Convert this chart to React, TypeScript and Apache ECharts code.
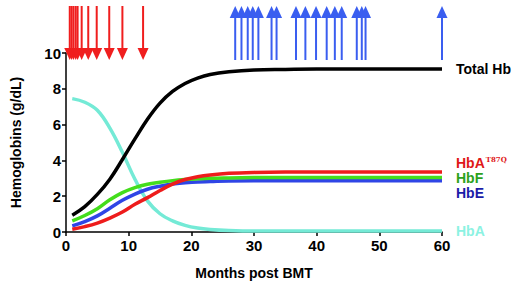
import React, { useEffect, useRef } from "react";
import * as echarts from "echarts";

const months = [1, 3, 5, 7, 9, 11, 13, 15, 17, 19, 21, 23, 26, 30, 35, 40, 50, 60];
const totalHb = [0.94, 1.42, 2.1, 2.95, 4.05, 5.2, 6.3, 7.2, 7.85, 8.3, 8.6, 8.8, 8.95, 9.05, 9.08, 9.1, 9.1, 9.1];
const hbA = [7.45, 7.25, 6.8, 5.8, 4.45, 2.95, 1.74, 1.02, 0.62, 0.37, 0.22, 0.14, 0.08, 0.05, 0.05, 0.05, 0.05, 0.05];
const hbF = [0.62, 0.92, 1.3, 1.8, 2.2, 2.48, 2.67, 2.78, 2.87, 2.93, 2.97, 3.0, 3.02, 3.04, 3.05, 3.05, 3.05, 3.05];
const hbE = [0.34, 0.58, 0.9, 1.33, 1.77, 2.12, 2.39, 2.56, 2.68, 2.75, 2.8, 2.82, 2.85, 2.86, 2.86, 2.86, 2.86, 2.86];
const hbAT87Q = [0.15, 0.3, 0.5, 0.78, 1.12, 1.55, 1.92, 2.32, 2.68, 2.93, 3.09, 3.19, 3.28, 3.33, 3.35, 3.35, 3.35, 3.35];

const redArrowMonths = [0.6, 0.9, 1.2, 1.55, 1.85, 2.5, 3.55, 4.9, 6.9, 9.0, 12.3];
const blueArrowMonths = [27.0, 28.0, 29.0, 29.8, 30.7, 32.8, 33.6, 36.7, 38.2, 39.9, 41.6, 42.9, 44.0, 46.4, 47.2, 47.8, 60.0];

const xTicks = { min: 0, max: 60, interval: 10 };
const yTicks = { min: 0, max: 10, interval: 2 };

const FONT = "'Liberation Sans', Arial, sans-serif";

function zip(xs: number[], ys: number[]) {
  return xs.map((x, i) => [x, ys[i]]);
}

export default function App() {
  const ref = useRef<HTMLDivElement>(null);
  useEffect(() => {
    if (!ref.current) return;
    const chart = echarts.init(ref.current, null, { renderer: "svg" });

    const lineSeries = (name: string, data: number[], color: string, label: any) => ({
      type: "line",
      name,
      data: zip(months, data),
      smooth: 0.4,
      symbol: "none",
      lineStyle: { color, width: 3.5 },
      endLabel: { show: true, distance: 14, fontFamily: FONT, fontWeight: "bold", fontSize: 14, ...label },
      z: 3,
    });

    const arrowSeries = (data: number[], color: string, down: boolean) => ({
      type: "custom",
      clip: false,
      data: data.map((m) => [m, yTicks.max]),
      renderItem: (_params: any, api: any) => {
        const p = api.coord([api.value(0), api.value(1)]);
        const x = p[0];
        const y = p[1];
        if (down) {
          return {
            type: "group",
            children: [
              { type: "line", shape: { x1: x, y1: y - 47, x2: x, y2: y - 2 }, style: { stroke: color, lineWidth: 2 } },
              { type: "polygon", shape: { points: [[x - 5.5, y - 5], [x + 5.5, y - 5], [x, y + 7]] }, style: { fill: color } },
            ],
          };
        }
        return {
          type: "group",
          children: [
            { type: "line", shape: { x1: x, y1: y + 7, x2: x, y2: y - 37 }, style: { stroke: color, lineWidth: 2 } },
            { type: "polygon", shape: { points: [[x - 5.5, y - 35], [x + 5.5, y - 35], [x, y - 47]] }, style: { fill: color } },
          ],
        };
      },
      z: 5,
    });

    chart.setOption({
      animation: false,
      grid: { left: 66, right: 78, top: 53, bottom: 62 },
      xAxis: {
        type: "value",
        ...xTicks,
        name: "Months post BMT",
        nameLocation: "middle",
        nameGap: 34,
        nameTextStyle: { fontFamily: FONT, fontWeight: "bold", fontSize: 14, color: "#000" },
        axisLine: { lineStyle: { color: "#000", width: 1.5 } },
        axisTick: { show: true, length: 4, lineStyle: { color: "#000", width: 1.5 } },
        axisLabel: { fontFamily: FONT, fontWeight: "bold", fontSize: 15, color: "#000", margin: 6 },
        splitLine: { show: false },
      },
      yAxis: {
        type: "value",
        ...yTicks,
        name: "Hemoglobins (g/dL)",
        nameLocation: "middle",
        nameGap: 43,
        nameTextStyle: { fontFamily: FONT, fontWeight: "bold", fontSize: 14, color: "#000" },
        axisLine: { show: true, lineStyle: { color: "#000", width: 1.5 } },
        axisTick: { show: true, length: 4, lineStyle: { color: "#000", width: 1.5 } },
        axisLabel: { fontFamily: FONT, fontWeight: "bold", fontSize: 15, color: "#000", margin: 5 },
        splitLine: { show: false },
      },
      series: [
        lineSeries("HbA", hbA, "#74ead6", { formatter: "HbA", color: "#8cf2e2" }),
        lineSeries("HbE", hbE, "#2f45e6", { formatter: "HbE", color: "#1c1ca8", offset: [0, 12] }),
        lineSeries("HbF", hbF, "#44dd1c", { formatter: "HbF", color: "#2ca21c", offset: [0, 1] }),
        lineSeries("HbAT87Q", hbAT87Q, "#ee1c1c", {
          formatter: "{a|HbA}{s|T87Q}",
          color: "#e01818",
          offset: [0, -9],
          rich: {
            a: { fontFamily: FONT, fontWeight: "bold", fontSize: 14, color: "#e01818" },
            s: { fontFamily: "'DejaVu Serif', serif", fontWeight: "bold", fontSize: 7, color: "#e01818", padding: [0, 0, 7, 1] },
          },
        }),
        lineSeries("Total Hb", totalHb, "#000000", { formatter: "Total Hb", color: "#000" }),
        arrowSeries(redArrowMonths, "#f01e1e", true),
        arrowSeries(blueArrowMonths, "#3a5ef0", false),
      ],
    });
    return () => chart.dispose();
  }, []);
  return <div ref={ref} style={{ position: "fixed", left: 0, top: 0, width: 520, height: 294, background: "#fff" }} />;
}
